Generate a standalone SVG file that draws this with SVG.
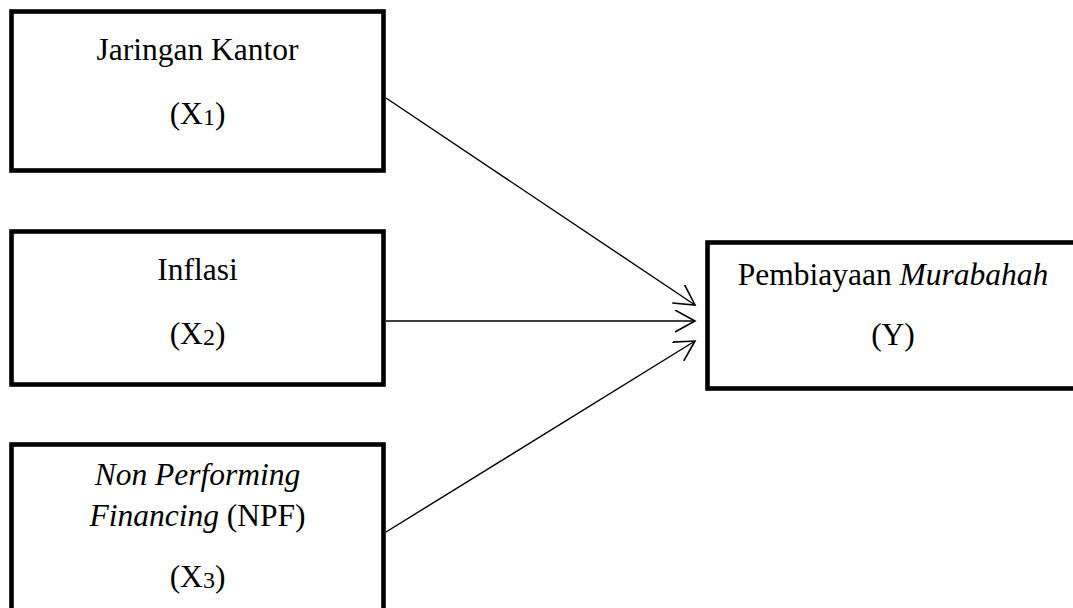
<svg xmlns="http://www.w3.org/2000/svg" width="1073" height="608" viewBox="0 0 1073 608">
<style>
.box{fill:#fff;stroke:#000;stroke-width:4.6}
.t{font-family:"Liberation Serif","Times New Roman",serif;font-size:31.5px;fill:#000;text-anchor:middle}
.i{font-style:italic}
.sub{font-size:24px}
.conn{stroke:#000;stroke-width:1.4;fill:none}
</style>
<defs>
<marker id="arr" markerUnits="userSpaceOnUse" markerWidth="24" markerHeight="24" refX="21" refY="11" orient="auto" viewBox="0 0 24 24">
<path d="M1,0 L21,11 L1,22" fill="none" stroke="#000" stroke-width="1.6"/>
</marker>
</defs>
<rect width="1073" height="608" fill="#fff"/>
<g id="connectors">
<line class="conn" x1="386" y1="98" x2="695" y2="305" marker-end="url(#arr)"/>
<line class="conn" x1="386" y1="321" x2="695" y2="321" marker-end="url(#arr)"/>
<line class="conn" x1="386" y1="532" x2="695" y2="341" marker-end="url(#arr)"/>
</g>
<g id="x1">
<rect class="box" x="11.5" y="11.5" width="372" height="159"/>
<text class="t" x="197.5" y="60">Jaringan Kantor</text>
<text class="t" x="197.5" y="124">(X<tspan class="sub" dy="1">1</tspan><tspan dy="-1">)</tspan></text>
</g>
<g id="x2">
<rect class="box" x="11.5" y="231.5" width="372" height="153"/>
<text class="t" x="197.5" y="280">Inflasi</text>
<text class="t" x="197.5" y="344">(X<tspan class="sub" dy="1">2</tspan><tspan dy="-1">)</tspan></text>
</g>
<g id="x3">
<rect class="box" x="11.5" y="444.5" width="372" height="180"/>
<text class="t i" x="197.5" y="485">Non Performing</text>
<text class="t" x="197.5" y="526"><tspan class="i">Financing</tspan> (NPF)</text>
<text class="t" x="197.5" y="587">(X<tspan class="sub" dy="1">3</tspan><tspan dy="-1">)</tspan></text>
</g>
<g id="y">
<rect class="box" x="707.5" y="242.5" width="380" height="146"/>
<text class="t" x="893" y="285">Pembiayaan <tspan class="i">Murabahah</tspan></text>
<text class="t" x="893" y="345">(Y)</text>
</g>
</svg>
